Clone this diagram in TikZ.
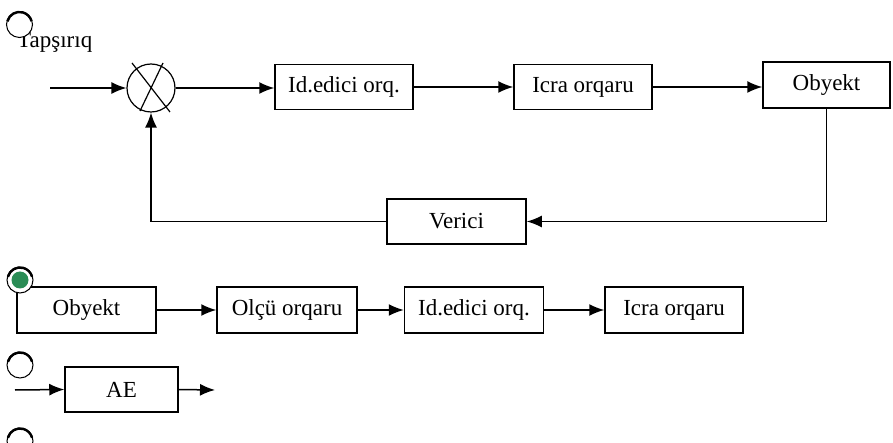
\documentclass[tikz,border=0pt]{standalone}
\usepackage{fontspec}
\setmainfont{Liberation Serif}
\usetikzlibrary{arrows.meta}
\definecolor{radiogreen}{HTML}{2A8C55}
\begin{document}
\begin{tikzpicture}[x=1pt,y=-1pt,
  font=\fontsize{23}{27}\selectfont,
  blk/.style={draw,line width=1.5pt,inner sep=0pt,minimum height=45,fill=white},
  arr/.style={line width=1.5pt,-{Latex[length=15pt,width=12pt]}},
  radio/.style={draw,line width=1pt,fill=white,circle,minimum size=26,inner sep=0pt}]
\useasboundingbox (0,0) rectangle (893,443);
\fill[white] (0,0) rectangle (893,443);

% ---- top loop ----
\node[circle,draw,line width=1.2pt,minimum size=48,inner sep=0pt] (sum) at (151,88) {};
\draw[line width=1.2pt] (132,63) -- (170,112) (163,63) -- (140,111);
\coordinate (in) at (50,88);
\node[blk,minimum width=138] (id1) at (344,87) {Id.edici orq.};
\node[blk,minimum width=138] (icra1) at (583,87) {Icra orqaru};
\node[blk,minimum width=127,minimum height=46] (obj1) at (826.5,85) {Obyekt};
\node[blk,minimum width=139] (ver) at (456.5,221.5) {Verici};
\node[anchor=base west,inner sep=0pt] (task) at (17,48) {Tapşırıq};

\draw[arr] (in) -- (sum.west);
\draw[arr] (sum.east) -- (id1.west |- sum.east);
\draw[arr] (id1.east) -- (icra1.west);
\draw[arr] (icra1.east) -- (obj1.west |- icra1.east);
\draw[arr] (obj1.south) |- (ver.east);
\draw[arr] (ver.west) -| (sum.south);

% ---- second row ----
\node[blk,minimum width=139,minimum height=46] (obj2) at (86.5,310) {Obyekt};
\node[blk,minimum width=140,minimum height=46] (olcu) at (287,310) {Olçü orqaru};
\node[blk,minimum width=139,minimum height=46] (id2) at (474,310) {Id.edici orq.};
\node[blk,minimum width=138,minimum height=46] (icra2) at (674,310) {Icra orqaru};
\draw[arr] (obj2.east) -- (olcu.west);
\draw[arr] (olcu.east) -- (id2.west);
\draw[arr] (id2.east) -- (icra2.west);

% ---- third row ----
\node[blk,minimum width=113] (ae) at (121.5,389.5) {AE};
\coordinate (aein) at (15,390);
\coordinate (aeout) at (215,390);
\draw[arr] (aein) -- (ae.west);
\draw[arr] (ae.east) -- (aeout);

% ---- radio buttons ----
\foreach \n/\p in {r1/{(19.5,24.5)},r2/{(20,280)},r3/{(20,365)},r4/{(20,441)}}{
  \node[radio] (\n) at \p {};
  \draw[line width=2.4pt] (\n.center) ++(195:12.5) arc[start angle=195,end angle=345,radius=12.5];
}
\fill[radiogreen] (r2.center) circle[radius=8.5];
\end{tikzpicture}
\end{document}
